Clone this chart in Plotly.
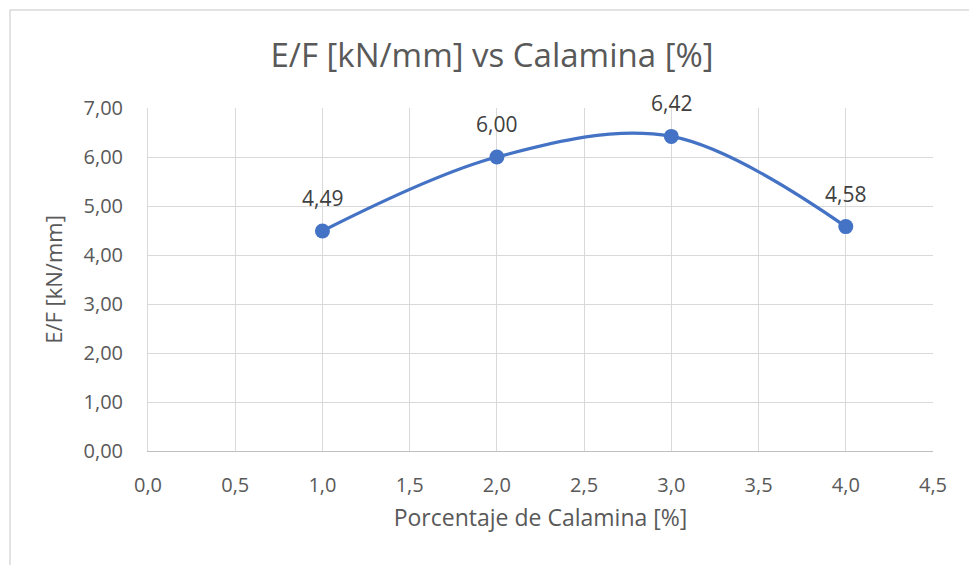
import plotly.graph_objects as go

# Data
calamina_pct = [1.0, 2.0, 3.0, 4.0]
ef_kn_mm = [4.49, 6.00, 6.42, 4.58]
value_labels = ["4,49", "6,00", "6,42", "4,58"]

x_ticks = [0.0, 0.5, 1.0, 1.5, 2.0, 2.5, 3.0, 3.5, 4.0, 4.5]
y_ticks = [0, 1, 2, 3, 4, 5, 6, 7]

W, H = 969, 565
L, R, T, B = 148, 36, 108, 114
plot_w = W - L - R
plot_h = H - T - B

FONT = "Open Sans"
TXT = "#595959"
GRID = "#d9d9d9"
BLUE = "#4472C4"

fig = go.Figure()
fig.add_trace(go.Scatter(
    x=calamina_pct, y=ef_kn_mm,
    mode="lines+markers",
    line=dict(color=BLUE, width=3.2, shape="spline", smoothing=1.0),
    marker=dict(color=BLUE, size=15),
    showlegend=False,
    hoverinfo="x+y",
))

for xv, yv, lab in zip(calamina_pct, ef_kn_mm, value_labels):
    fig.add_annotation(x=xv, y=yv, text=lab, showarrow=False,
                       yshift=33, font=dict(family=FONT, size=21, color="#404040"))

# outer chart border (extends past the visible page on right and bottom)
def px_to_paper_x(px):
    return (px - L) / plot_w

def px_to_paper_y(py):
    return (H - B - py) / plot_h

fig.add_shape(type="rect", xref="paper", yref="paper",
              x0=px_to_paper_x(10), x1=px_to_paper_x(1000),
              y0=px_to_paper_y(600), y1=px_to_paper_y(10),
              line=dict(color="#d9d9d9", width=1.5), fillcolor="rgba(0,0,0,0)",
              layer="below")

fig.update_layout(
    width=W, height=H,
    margin=dict(l=L, r=R, t=T, b=B),
    paper_bgcolor="white", plot_bgcolor="white",
    separators=",.",
    title=dict(text="E/F [kN/mm] vs Calamina [%]", x=492 / W, xanchor="center",
               y=1 - 55 / H, yanchor="middle",
               font=dict(family=FONT, size=33, color=TXT)),
    xaxis=dict(
        range=[0, 4.5], tickvals=x_ticks, tickformat=".1f",
        showgrid=True, gridcolor=GRID, gridwidth=1,
        showline=True, linecolor="#bfbfbf", linewidth=1, mirror=False,
        zeroline=False, ticks="", ticklabelstandoff=16,
        tickfont=dict(family=FONT, size=20, color=TXT),
        title=dict(text="Porcentaje de Calamina [%]", standoff=12,
                   font=dict(family=FONT, size=23, color=TXT)),
    ),
    yaxis=dict(
        range=[0, 7], tickvals=y_ticks, tickformat=".2f",
        showgrid=True, gridcolor=GRID, gridwidth=1,
        showline=True, linecolor=GRID, linewidth=1,
        zeroline=False, ticks="", ticklabelstandoff=20,
        tickfont=dict(family=FONT, size=20, color=TXT),
        title=dict(text="E/F [kN/mm]", standoff=14,
                   font=dict(family=FONT, size=22, color=TXT)),
    ),
)

fig.write_html("out.html")
